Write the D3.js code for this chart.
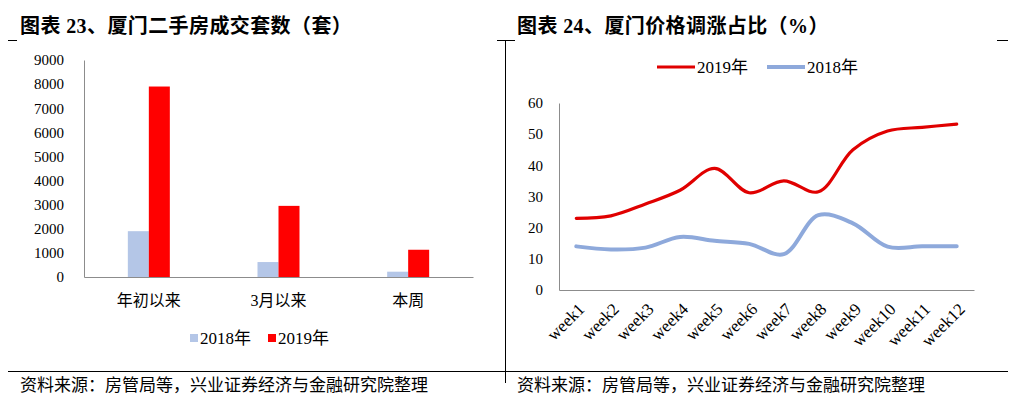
<!DOCTYPE html>
<html><head><meta charset="utf-8">
<script src="https://cdn.jsdelivr.net/npm/d3@7"></script>
<style>
body{margin:0;background:#fff;}
svg{display:block;}
text{font-family:"Liberation Serif","Noto Sans CJK SC",serif;fill:#000;}
</style></head>
<body>
<svg id="c" width="1024" height="402"></svg>
<script>
// ---- data ----
const barCategories = ["年初以来", "3月以来", "本周"];
const barSeries = ["2018年", "2019年"];
const bar2018 = [1900, 620, 220];
const bar2019 = [7900, 2950, 1130];
const barTicks = [0,1000,2000,3000,4000,5000,6000,7000,8000,9000];

const weeks = ["week1","week2","week3","week4","week5","week6","week7","week8","week9","week10","week11","week12"];
const line2019 = [23, 23.8, 27.6, 32, 39, 31.2, 35, 31.5, 45, 51, 52.2, 53.2];
const line2018 = [14, 13, 13.6, 17, 15.8, 14.8, 11.5, 24, 21.4, 13.9, 14, 14];
const lineTicks = [0,10,20,30,40,50,60];

const titleLeft = "图表 23、厦门二手房成交套数（套）";
const titleRight = "图表 24、厦门价格调涨占比（%）";
const sourceText = "资料来源：房管局等，兴业证券经济与金融研究院整理";

const svg = d3.select("#c");
const axisColor = "#8c8c8c";
const barColors = {"2018年":"#b4c6e7", "2019年":"#ff0000"};
const lineColors = {"2019年":"#e00000", "2018年":"#8ea9db"};

// ---- frame lines ----
const frame = svg.append("g").attr("stroke","#000").attr("stroke-width",1);
frame.append("line").attr("x1",8).attr("x2",17).attr("y1",40.5).attr("y2",40.5);
frame.append("line").attr("x1",497).attr("x2",515).attr("y1",40.5).attr("y2",40.5);
frame.append("line").attr("x1",997).attr("x2",1008).attr("y1",40.5).attr("y2",40.5);
frame.append("line").attr("x1",505.5).attr("x2",505.5).attr("y1",40).attr("y2",383);
frame.append("line").attr("x1",8).attr("x2",1008).attr("y1",371.5).attr("y2",371.5);

// titles
svg.append("text").attr("x",20).attr("y",33).attr("font-size",20).attr("letter-spacing",0.4).attr("font-weight","bold").text(titleLeft);
svg.append("text").attr("x",517).attr("y",33).attr("font-size",20).attr("letter-spacing",0.4).attr("font-weight","bold").text(titleRight);
svg.append("text").attr("x",20).attr("y",391).attr("font-size",17).text(sourceText);
svg.append("text").attr("x",517).attr("y",391).attr("font-size",17).text(sourceText);

// ---- left bar chart ----
const yB = d3.scaleLinear().domain([0,9000]).range([277,60]);
const xB = d3.scaleBand().domain(barCategories).range([84,473]).paddingInner(0).paddingOuter(0);
const xInner = d3.scaleBand().domain(barSeries).range([0,42]);
const gB = svg.append("g");

const yAxB = gB.append("g").attr("transform","translate(84,0)")
  .call(d3.axisLeft(yB).tickValues(barTicks).tickSize(0).tickPadding(20).tickFormat(d3.format("d")));
yAxB.select(".domain").attr("stroke",axisColor);
yAxB.selectAll("text").attr("font-size",15);

const barData = [];
barCategories.forEach((c,i)=>{
  barData.push({cat:c, s:"2018年", v:bar2018[i]});
  barData.push({cat:c, s:"2019年", v:bar2019[i]});
});
gB.selectAll("rect.bar").data(barData).join("rect").attr("class","bar")
  .attr("x",d=>xB(d.cat)+xB.bandwidth()/2-21+xInner(d.s))
  .attr("width",xInner.bandwidth())
  .attr("y",d=>yB(d.v))
  .attr("height",d=>yB(0)-yB(d.v))
  .attr("fill",d=>barColors[d.s]);

const xAxB = gB.append("g").attr("transform","translate(0,277)")
  .call(d3.axisBottom(xB).tickSize(0).tickPadding(18));
xAxB.select(".domain").attr("stroke",axisColor);
xAxB.selectAll("text").attr("font-size",16);

// legend left
const legB = gB.append("g").attr("transform","translate(190,339)");
barSeries.forEach((s,i)=>{
  const g = legB.append("g").attr("transform",`translate(${i*78},0)`);
  g.append("rect").attr("x",0).attr("y",-5).attr("width",8).attr("height",8).attr("fill",barColors[s]);
  g.append("text").attr("x",10).attr("y",5).attr("font-size",17).text(s);
});

// ---- right line chart ----
const yL = d3.scaleLinear().domain([0,60]).range([290,103]);
const xL = d3.scaleBand().domain(weeks).range([559,974]);
const gL = svg.append("g");
const yAxL = gL.append("g").attr("transform","translate(559,0)")
  .call(d3.axisLeft(yL).tickValues(lineTicks).tickSize(0).tickPadding(16));
yAxL.select(".domain").attr("stroke",axisColor);
yAxL.selectAll("text").attr("font-size",15);

const xAxL = gL.append("g").attr("transform","translate(0,290)")
  .call(d3.axisBottom(xL).tickSize(0).tickPadding(0));
xAxL.select(".domain").attr("stroke",axisColor);
xAxL.selectAll("text").attr("font-size",17)
  .attr("text-anchor","end").attr("dy","0.35em").attr("y",0)
  .attr("transform","translate(5,16) rotate(-45)");

const line = d3.line().x((d,i)=>xL(weeks[i])+xL.bandwidth()/2).y(d=>yL(d)).curve(d3.curveCatmullRom.alpha(0.5));
gL.append("path").datum(line2018).attr("d",line).attr("fill","none")
  .attr("stroke",lineColors["2018年"]).attr("stroke-width",4).attr("stroke-linecap","round");
gL.append("path").datum(line2019).attr("d",line).attr("fill","none")
  .attr("stroke",lineColors["2019年"]).attr("stroke-width",3.2).attr("stroke-linecap","round");

// legend right
const legL = gL.append("g").attr("transform","translate(657,67)");
["2019年","2018年"].forEach((s,i)=>{
  const g = legL.append("g").attr("transform",`translate(${i*110},0)`);
  g.append("line").attr("x1",0).attr("x2",38).attr("y1",0).attr("y2",0)
    .attr("stroke",lineColors[s]).attr("stroke-width",s==="2019年"?3.2:4);
  g.append("text").attr("x",40).attr("y",6).attr("font-size",17).text(s);
});
</script>
</body></html>
